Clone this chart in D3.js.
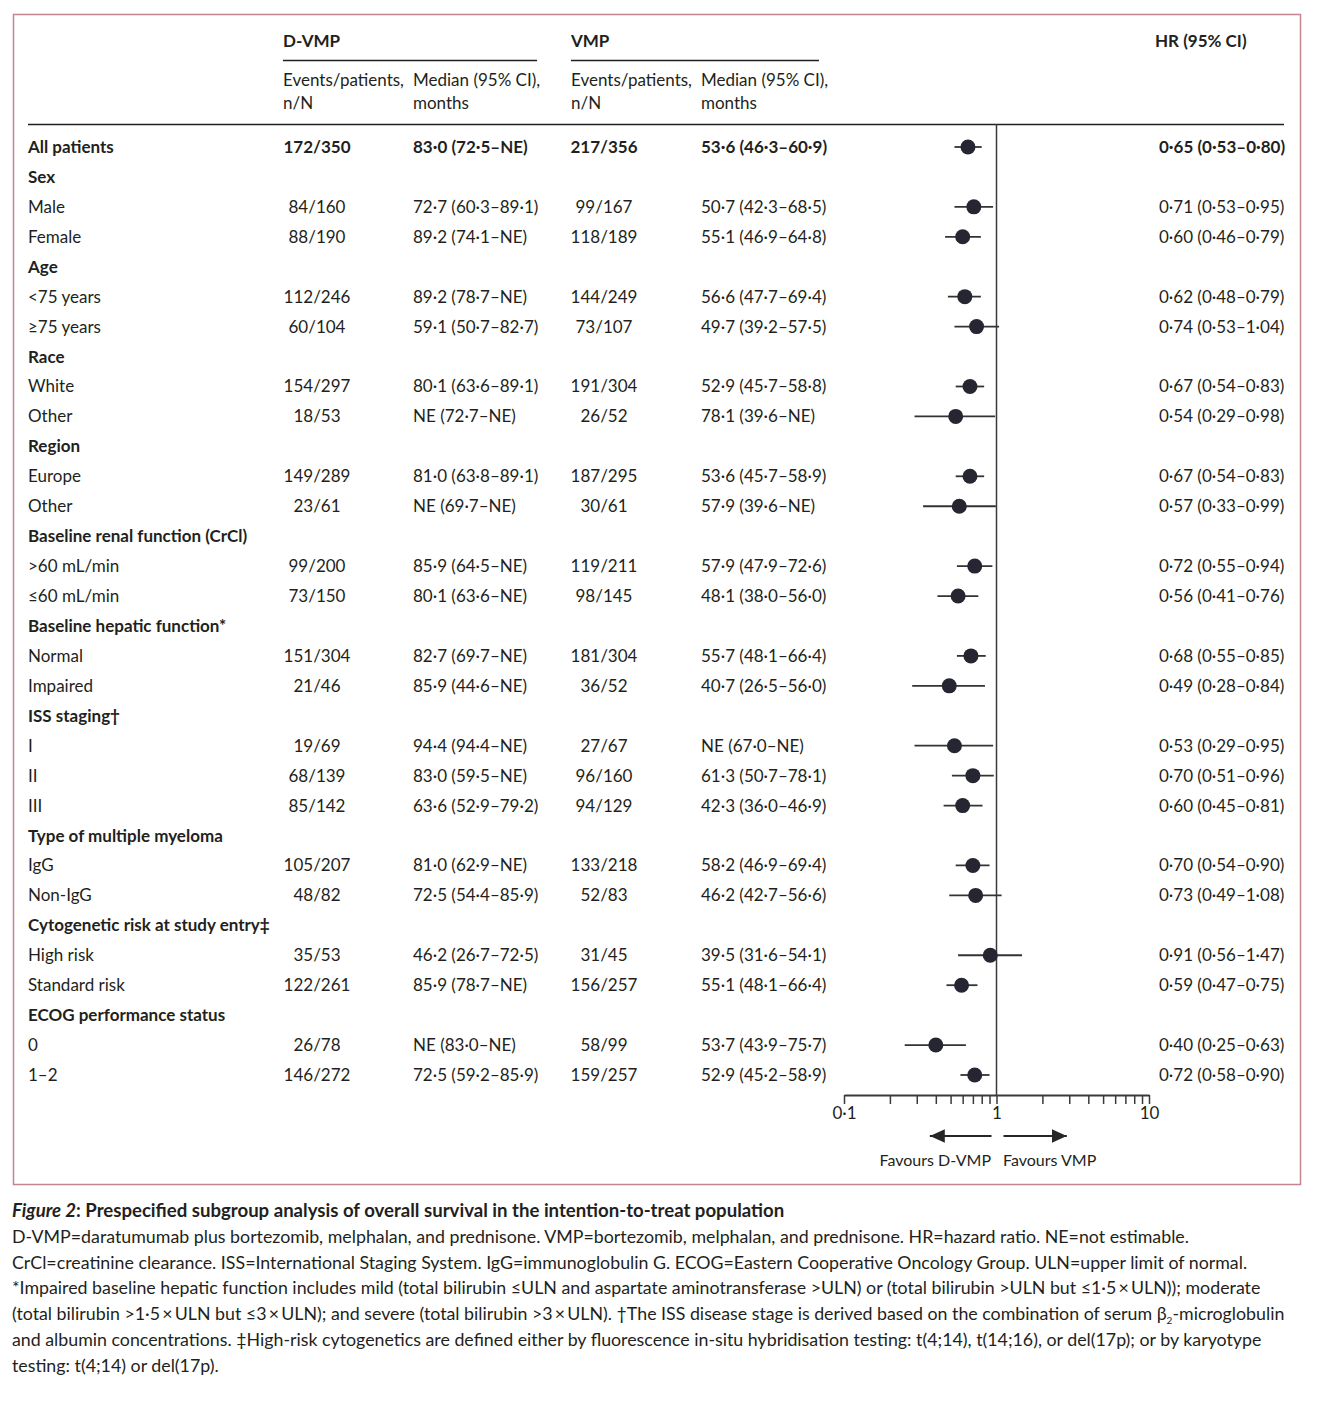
<!DOCTYPE html>
<html><head><meta charset="utf-8">
<script src="https://cdn.jsdelivr.net/npm/d3@7"></script>
<style>
body{margin:0;background:#fff;}
svg text{font-family:Lato,"Open Sans",sans-serif;fill:#231f20;}
</style></head>
<body><svg id="c" width="1320" height="1408"></svg>
<script>
// ---- data ----
const labels = ["All patients","Sex","Male","Female","Age","<75 years","≥75 years","Race","White","Other","Region","Europe","Other","Baseline renal function (CrCl)",">60 mL/min","≤60 mL/min","Baseline hepatic function*","Normal","Impaired","ISS staging†","I","II","III","Type of multiple myeloma","IgG","Non-IgG","Cytogenetic risk at study entry‡","High risk","Standard risk","ECOG performance status","0","1–2"];
const rowType = ["total","group","sub","sub","group","sub","sub","group","sub","sub","group","sub","sub","group","sub","sub","group","sub","sub","group","sub","sub","sub","group","sub","sub","group","sub","sub","group","sub","sub"];
const dvmpEvents = ["172/350","","84/160","88/190","","112/246","60/104","","154/297","18/53","","149/289","23/61","","99/200","73/150","","151/304","21/46","","19/69","68/139","85/142","","105/207","48/82","","35/53","122/261","","26/78","146/272"];
const dvmpMedian = ["83·0 (72·5–NE)","","72·7 (60·3–89·1)","89·2 (74·1–NE)","","89·2 (78·7–NE)","59·1 (50·7–82·7)","","80·1 (63·6–89·1)","NE (72·7–NE)","","81·0 (63·8–89·1)","NE (69·7–NE)","","85·9 (64·5–NE)","80·1 (63·6–NE)","","82·7 (69·7–NE)","85·9 (44·6–NE)","","94·4 (94·4–NE)","83·0 (59·5–NE)","63·6 (52·9–79·2)","","81·0 (62·9–NE)","72·5 (54·4–85·9)","","46·2 (26·7–72·5)","85·9 (78·7–NE)","","NE (83·0–NE)","72·5 (59·2–85·9)"];
const vmpEvents = ["217/356","","99/167","118/189","","144/249","73/107","","191/304","26/52","","187/295","30/61","","119/211","98/145","","181/304","36/52","","27/67","96/160","94/129","","133/218","52/83","","31/45","156/257","","58/99","159/257"];
const vmpMedian = ["53·6 (46·3–60·9)","","50·7 (42·3–68·5)","55·1 (46·9–64·8)","","56·6 (47·7–69·4)","49·7 (39·2–57·5)","","52·9 (45·7–58·8)","78·1 (39·6–NE)","","53·6 (45·7–58·9)","57·9 (39·6–NE)","","57·9 (47·9–72·6)","48·1 (38·0–56·0)","","55·7 (48·1–66·4)","40·7 (26·5–56·0)","","NE (67·0–NE)","61·3 (50·7–78·1)","42·3 (36·0–46·9)","","58·2 (46·9–69·4)","46·2 (42·7–56·6)","","39·5 (31·6–54·1)","55·1 (48·1–66·4)","","53·7 (43·9–75·7)","52·9 (45·2–58·9)"];
const hr =   [0.65,null,0.71,0.60,null,0.62,0.74,null,0.67,0.54,null,0.67,0.57,null,0.72,0.56,null,0.68,0.49,null,0.53,0.70,0.60,null,0.70,0.73,null,0.91,0.59,null,0.40,0.72];
const hrLo = [0.53,null,0.53,0.46,null,0.48,0.53,null,0.54,0.29,null,0.54,0.33,null,0.55,0.41,null,0.55,0.28,null,0.29,0.51,0.45,null,0.54,0.49,null,0.56,0.47,null,0.25,0.58];
const hrHi = [0.80,null,0.95,0.79,null,0.79,1.04,null,0.83,0.98,null,0.83,0.99,null,0.94,0.76,null,0.85,0.84,null,0.95,0.96,0.81,null,0.90,1.08,null,1.47,0.75,null,0.63,0.90];
const axisTicks = [0.1,1,10];
const axisTickLabels = ["0·1","1","10"];
const fmt = v => v.toFixed(2).replace(".", "·");

// ---- layout ----
const svg = d3.select("#c");
const ink = "#231f20";
svg.append("rect").attr("x",13.5).attr("y",14.5).attr("width",1287).attr("height",1170)
  .attr("fill","none").attr("stroke","#c4848f").attr("stroke-width",1.5);

const y = d3.scalePoint().domain(d3.range(labels.length)).range([147,1075]);
const x = d3.scaleLog().domain([0.1,10]).range([844,1149]);
const fs = 17;

// header
const hdr = svg.append("g");
hdr.append("text").attr("x",283).attr("y",47).attr("font-weight","bold").attr("font-size",fs).text("D-VMP");
hdr.append("text").attr("x",571).attr("y",47).attr("font-weight","bold").attr("font-size",fs).text("VMP");
hdr.append("text").attr("x",1155).attr("y",47).attr("font-weight","bold").attr("font-size",fs).text("HR (95% CI)");
hdr.append("line").attr("x1",283).attr("x2",537).attr("y1",60.5).attr("y2",60.5).attr("stroke",ink).attr("stroke-width",1.5);
hdr.append("line").attr("x1",571).attr("x2",819).attr("y1",60.5).attr("y2",60.5).attr("stroke",ink).attr("stroke-width",1.5);
[[283,"Events/patients,","n/N"],[413,"Median (95% CI),","months"],[571,"Events/patients,","n/N"],[701,"Median (95% CI),","months"]].forEach(d=>{
  hdr.append("text").attr("x",d[0]).attr("y",86).attr("font-size",fs).text(d[1]);
  hdr.append("text").attr("x",d[0]).attr("y",109).attr("font-size",fs).text(d[2]);
});
hdr.append("line").attr("x1",28).attr("x2",1284).attr("y1",124.5).attr("y2",124.5).attr("stroke",ink).attr("stroke-width",1.5);

// rows
const rows = svg.append("g").selectAll("g").data(labels).join("g")
  .attr("transform",(d,i)=>`translate(0,${y(i)+6})`);
rows.append("text").attr("x",28).attr("font-size",fs)
  .attr("font-weight",(d,i)=>rowType[i]==="sub"?"normal":"bold").text(d=>d);
const bold = i => rowType[i]==="total"?"bold":"normal";
rows.append("text").attr("x",317).attr("text-anchor","middle").attr("font-size",fs).attr("font-weight",(d,i)=>bold(i)).text((d,i)=>dvmpEvents[i]);
rows.append("text").attr("x",413).attr("font-size",fs).attr("font-weight",(d,i)=>bold(i)).text((d,i)=>dvmpMedian[i]);
rows.append("text").attr("x",604).attr("text-anchor","middle").attr("font-size",fs).attr("font-weight",(d,i)=>bold(i)).text((d,i)=>vmpEvents[i]);
rows.append("text").attr("x",701).attr("font-size",fs).attr("font-weight",(d,i)=>bold(i)).text((d,i)=>vmpMedian[i]);
rows.append("text").attr("x",1159).attr("font-size",fs).attr("font-weight",(d,i)=>bold(i))
  .text((d,i)=>hr[i]==null?"":`${fmt(hr[i])} (${fmt(hrLo[i])}–${fmt(hrHi[i])})`);

// reference line
svg.append("line").attr("x1",x(1)).attr("x2",x(1)).attr("y1",124).attr("y2",1095)
  .attr("stroke","#3a3a3a").attr("stroke-width",1.5);

// forest marks
const idx = d3.range(labels.length).filter(i=>hr[i]!=null);
const fg = svg.append("g");
fg.selectAll("line").data(idx).join("line")
  .attr("x1",i=>x(hrLo[i])).attr("x2",i=>x(hrHi[i]))
  .attr("y1",i=>y(i)).attr("y2",i=>y(i)).attr("stroke","#333").attr("stroke-width",1.8);
fg.selectAll("circle").data(idx).join("circle")
  .attr("cx",i=>x(hr[i])).attr("cy",i=>y(i)).attr("r",7.5).attr("fill","#262633");

// axis
const allTicks = [];
[0.1,1].forEach(b=>{for(let k=1;k<10;k++) allTicks.push(b*k);});
allTicks.push(10);
const ax = d3.axisBottom(x).tickValues(allTicks).tickSize(9).tickSizeOuter(0)
  .tickFormat(v=>{const j=axisTicks.findIndex(t=>Math.abs(t-v)<1e-9);return j>=0?axisTickLabels[j]:"";});
const ag = svg.append("g").attr("transform","translate(0,1095)").call(ax);
ag.select(".domain").attr("stroke","#3a3a3a").attr("stroke-width",1.8);
ag.selectAll(".tick line").attr("stroke","#3a3a3a").attr("stroke-width",1.5);
ag.selectAll(".tick text").attr("font-size",fs).attr("font-family","Lato, sans-serif").attr("fill",ink).attr("y",12).attr("dy","0.71em");

// arrows
const defs = svg.append("defs");
defs.append("marker").attr("id","ah").attr("viewBox","0 0 10 10").attr("refX",10).attr("refY",5)
  .attr("markerUnits","userSpaceOnUse").attr("orient","auto")
  .attr("markerWidth",15).attr("markerHeight",15)
  .append("path").attr("d","M0,0.5L10,5L0,9.5Z").attr("fill","#262626");
svg.append("line").attr("x1",x(1)-5).attr("x2",x(0.4)-6).attr("y1",1136).attr("y2",1136).attr("stroke","#262626").attr("stroke-width",1.8).attr("marker-end","url(#ah)");
svg.append("line").attr("x1",x(1)+7).attr("x2",x(2.6)+7).attr("y1",1136).attr("y2",1136).attr("stroke","#262626").attr("stroke-width",1.8).attr("marker-end","url(#ah)");
svg.append("text").attr("x",991).attr("y",1166).attr("text-anchor","end").attr("font-size",16).text("Favours D-VMP");
svg.append("text").attr("x",1003).attr("y",1166).attr("font-size",16).text("Favours VMP");

// caption
const cap = svg.append("g").attr("font-size",17.8);
const t0 = cap.append("text").attr("x",12).attr("y",1217).attr("font-weight","bold").attr("font-size",18.6);
t0.append("tspan").attr("font-style","italic").text("Figure 2");
t0.append("tspan").text(": Prespecified subgroup analysis of overall survival in the intention-to-treat population");
const capLines = [
 ["D-VMP=daratumumab plus bortezomib, melphalan, and prednisone. VMP=bortezomib, melphalan, and prednisone. HR=hazard ratio. NE=not estimable."],
 ["CrCl=creatinine clearance. ISS=International Staging System. IgG=immunoglobulin G. ECOG=Eastern Cooperative Oncology Group. ULN=upper limit of normal."],
 ["*Impaired baseline hepatic function includes mild (total bilirubin ≤ULN and aspartate aminotransferase >ULN) or (total bilirubin >ULN but ≤1·5\u2009×\u2009ULN)); moderate"],
 ["(total bilirubin >1·5\u2009×\u2009ULN but ≤3\u2009×\u2009ULN); and severe (total bilirubin >3\u2009×\u2009ULN). †The ISS disease stage is derived based on the combination of serum β","2","-microglobulin"],
 ["and albumin concentrations. ‡High-risk cytogenetics are defined either by fluorescence in-situ hybridisation testing: t(4;14), t(14;16), or del(17p); or by karyotype"],
 ["testing: t(4;14) or del(17p)."]
];
capLines.forEach((l,k)=>{
  const t = cap.append("text").attr("x",12).attr("y",1243+k*25.7);
  t.append("tspan").text(l[0]);
  if(l.length>1){
    t.append("tspan").attr("font-size",10).attr("dy",4).text(l[1]);
    t.append("tspan").attr("dy",-4).text(l[2]);
  }
});
</script></body></html>
